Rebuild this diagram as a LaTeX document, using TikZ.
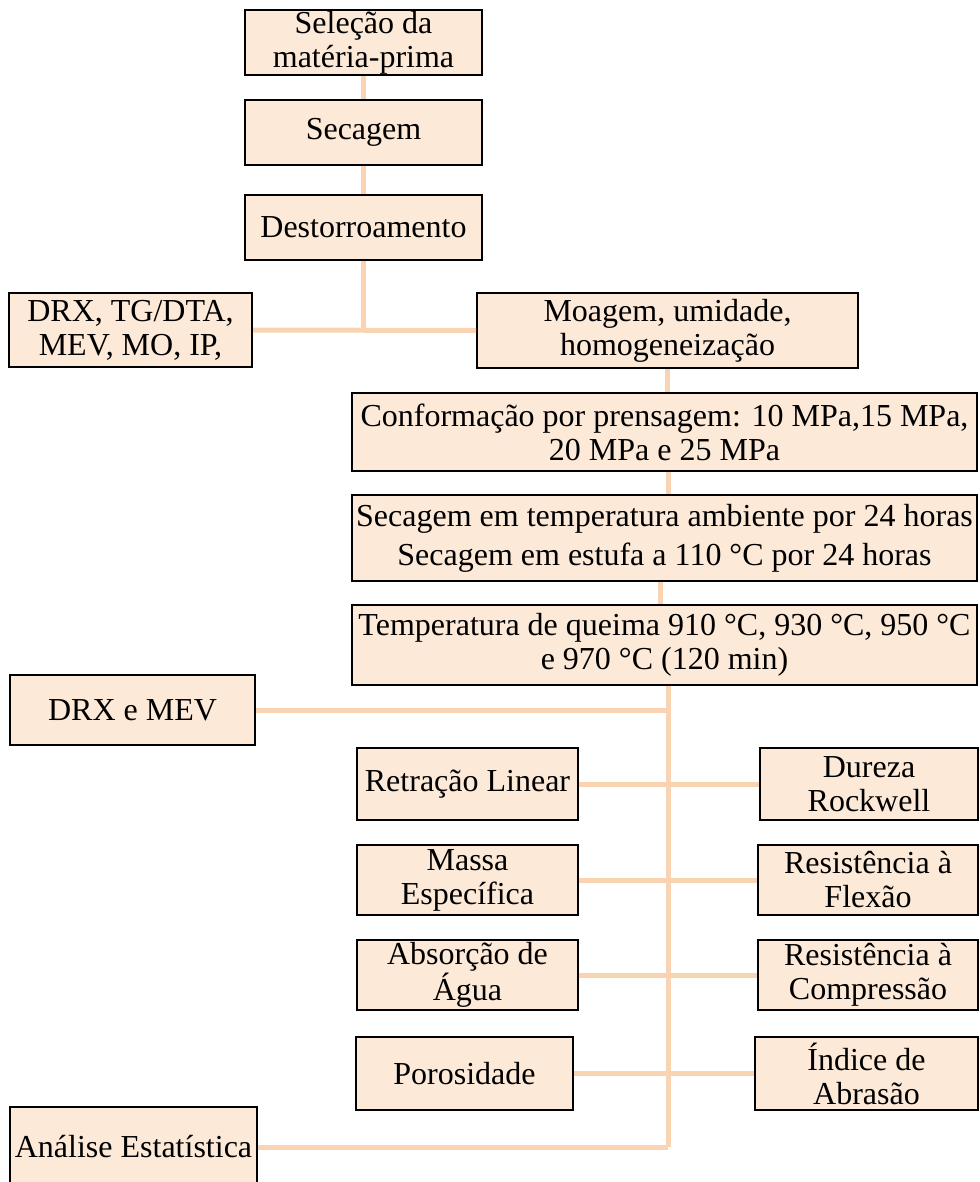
\documentclass[tikz,border=0pt]{standalone}
\usepackage{fontspec}
\setmainfont{Liberation Serif}
\usetikzlibrary{positioning}
\definecolor{boxfill}{RGB}{252,233,216}
\definecolor{linkline}{RGB}{250,212,178}

\begin{document}
\begin{tikzpicture}[x=0.5pt,y=-0.5pt,
  stage/.style={draw=black, line width=1pt, fill=boxfill, align=center,
    inner xsep=2pt, inner ysep=0pt, font=\fontsize{16}{17}\selectfont},
  link/.style={draw=linkline, line width=2.5pt}]
  \clip (0,0) rectangle (979,1182);

  % preparation of the raw material
  \node[stage, minimum width=118.5pt, minimum height=32.5pt] (sel) at (363.5,42.5) {Seleção da\\matéria-prima};
  \node[stage, minimum width=118.5pt, minimum height=32.5pt] (sec) at (363.5,132.5) {Secagem};
  \node[stage, minimum width=118.5pt, minimum height=32.5pt] (dest) at (363.5,227.5) {Destorroamento};
  \node[stage, minimum width=121.5pt, minimum height=37pt] (drx) at (130.5,330) {DRX, TG/DTA,\\MEV, MO, IP,};
  \node[stage, minimum width=190.5pt, minimum height=37.5pt] (moa) at (667.5,330.5) {Moagem, umidade,\\homogeneização};

  % forming, drying and firing
  \node[stage, minimum width=312.5pt, minimum height=39pt] (conf) at (664.5,432) {Conformação por prensagem: 10 MPa,15 MPa,\\20 MPa e 25 MPa};
  \node[stage, minimum width=312.5pt, minimum height=43pt] (sec2) at (664.5,538) {Secagem em temperatura ambiente por 24 horas\\[2.5pt]Secagem em estufa a 110 °C por 24 horas};
  \node[stage, minimum width=312.5pt, minimum height=40pt] (temp) at (664.5,645) {Temperatura de queima 910 °C, 930 °C, 950 °C\\e 970 °C (120 min)};

  % tests
  \node[stage, minimum width=122.5pt, minimum height=35pt] (drxmev) at (132.5,710) {DRX e MEV};
  \node[stage, minimum width=110.5pt, minimum height=36pt] (ret) at (467.5,784) {Retração Linear};
  \node[stage, minimum width=109pt, minimum height=36pt] (dur) at (869,784) {Dureza\\Rockwell};
  \node[stage, minimum width=110.5pt, minimum height=35pt] (mas) at (467.5,880) {Massa\\Específica};
  \node[stage, minimum width=110pt, minimum height=35pt] (flex) at (868,880) {Resistência à\\Flexão};
  \node[stage, minimum width=110.5pt, minimum height=35pt] (abs) at (467.5,975) {Absorção de\\Água};
  \node[stage, minimum width=110pt, minimum height=35pt] (comp) at (868,975) {Resistência à\\Compressão};
  \node[stage, minimum width=108.5pt, minimum height=36.5pt] (por) at (464.5,1073.5) {Porosidade};
  \node[stage, minimum width=111.5pt, minimum height=36.5pt] (abr) at (866.5,1073.5) {Índice de\\Abrasão};
  \node[stage, minimum width=123.5pt, minimum height=40pt] (ana) at (133.5,1147) {Análise Estatística};

  \coordinate (spine) at (668,1147);

  % connectors
  \draw[link] (sel.south) -- (sec.north);
  \draw[link] (sec.south) -- (dest.north);
  \draw[link] (dest.south) -- (dest.south |- drx.east);
  \draw[link] (drx.east) -- (moa.west);
  \draw[link] (moa.south) -- (moa.south |- conf.north);
  \draw[link] ([xshift=1.75pt]conf.south) -- ([xshift=1.75pt]sec2.north);
  \draw[link] ([xshift=-2.25pt]sec2.south) -- ([xshift=-2.25pt]temp.north);
  \draw[link] (temp.south -| spine) -- (spine);
  \draw[link] (drxmev.east) -- (drxmev.east -| spine);
  \draw[link] (ret.east) -- (dur.west);
  \draw[link] (mas.east) -- (flex.west);
  \draw[link] (abs.east) -- (comp.west);
  \draw[link] (por.east) -- (abr.west);
  \draw[link] (ana.east) -- (spine);
\end{tikzpicture}
\end{document}
